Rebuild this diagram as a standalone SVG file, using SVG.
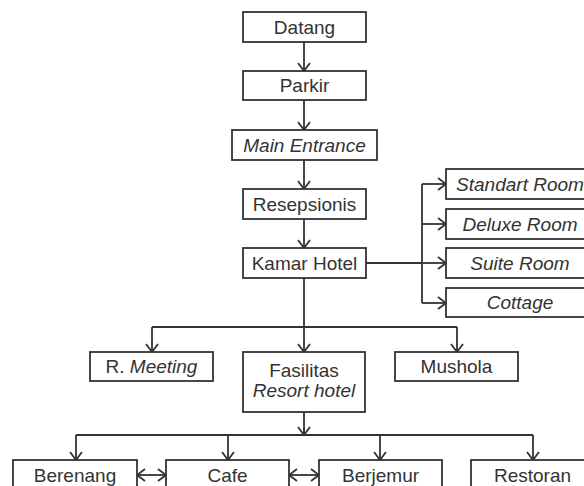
<svg xmlns="http://www.w3.org/2000/svg" width="584" height="486" viewBox="0 0 584 486">
  <style>
    .box { fill: #ffffff; stroke: #333333; stroke-width: 1.8; }
    .lbl { font-family: "Liberation Sans", Arial, sans-serif; font-size: 19px; fill: #333333; text-anchor: middle; }
    .it { font-style: italic; }
    .wire { fill: none; stroke: #333333; stroke-width: 1.8; }
    .arr { marker-end: url(#ah); }
    .both { marker-start: url(#ah); marker-end: url(#ah); }
  </style>
  <defs>
    <marker id="ah" viewBox="0 0 10 14" refX="9" refY="7" markerWidth="10" markerHeight="14" markerUnits="userSpaceOnUse" orient="auto-start-reverse">
      <path d="M1,1 L9,7 L1,13" fill="none" stroke="#333333" stroke-width="1.8"/>
    </marker>
  </defs>
  <rect width="584" height="486" fill="#ffffff"/>

  <g id="connectors">
    <line class="wire arr" x1="304" y1="42" x2="304" y2="71"/>
    <line class="wire arr" x1="304" y1="100" x2="304" y2="130"/>
    <line class="wire arr" x1="304" y1="160" x2="304" y2="189"/>
    <line class="wire arr" x1="304" y1="219" x2="304" y2="248"/>
    <!-- room types -->
    <polyline class="wire" points="366,263 422,263"/>
    <line class="wire" x1="422" y1="184" x2="422" y2="303"/>
    <line class="wire arr" x1="422" y1="184" x2="446" y2="184"/>
    <line class="wire arr" x1="422" y1="224" x2="446" y2="224"/>
    <line class="wire arr" x1="422" y1="263" x2="446" y2="263"/>
    <line class="wire arr" x1="422" y1="303" x2="446" y2="303"/>
    <!-- facilities -->
    <line class="wire arr" x1="304" y1="278" x2="304" y2="352"/>
    <line class="wire" x1="152" y1="327" x2="457" y2="327"/>
    <line class="wire arr" x1="152" y1="327" x2="152" y2="352"/>
    <line class="wire arr" x1="457" y1="327" x2="457" y2="352"/>
    <!-- resort activities -->
    <line class="wire" x1="304" y1="412" x2="304" y2="435"/>
    <line class="wire" x1="76" y1="435" x2="533" y2="435"/>
    <line class="wire arr" x1="76" y1="435" x2="76" y2="460"/>
    <line class="wire arr" x1="228" y1="435" x2="228" y2="460"/>
    <line class="wire arr" x1="380" y1="435" x2="380" y2="460"/>
    <line class="wire arr" x1="533" y1="435" x2="533" y2="460"/>
    <line class="wire arr" x1="304" y1="428" x2="304" y2="435"/>
    <line class="wire both" x1="137" y1="475" x2="166" y2="475"/>
    <line class="wire both" x1="289" y1="475" x2="319" y2="475"/>
  </g>

  <g id="datang"><rect class="box" x="243" y="12" width="123" height="30"/><text class="lbl" x="304.5" y="33.5">Datang</text></g>
  <g id="parkir"><rect class="box" x="243" y="71" width="123" height="29"/><text class="lbl" x="304.5" y="92">Parkir</text></g>
  <g id="main-entrance"><rect class="box" x="232" y="130" width="145" height="30"/><text class="lbl it" x="304.5" y="151.5">Main Entrance</text></g>
  <g id="resepsionis"><rect class="box" x="243" y="189" width="123" height="30"/><text class="lbl" x="304.5" y="210.5">Resepsionis</text></g>
  <g id="kamar-hotel"><rect class="box" x="243" y="248" width="123" height="30"/><text class="lbl" x="304.5" y="269.5">Kamar Hotel</text></g>

  <g id="standart-room"><rect class="box" x="446" y="169" width="150" height="30"/><text class="lbl it" x="520" y="190.5">Standart Room</text></g>
  <g id="deluxe-room"><rect class="box" x="446" y="209" width="150" height="30"/><text class="lbl it" x="520" y="230.5">Deluxe Room</text></g>
  <g id="suite-room"><rect class="box" x="446" y="248" width="150" height="30"/><text class="lbl it" x="520" y="269.5">Suite Room</text></g>
  <g id="cottage"><rect class="box" x="446" y="288" width="150" height="29"/><text class="lbl it" x="520" y="309">Cottage</text></g>

  <g id="r-meeting"><rect class="box" x="90" y="352" width="123" height="29"/><text class="lbl" x="151.5" y="373">R. <tspan class="it">Meeting</tspan></text></g>
  <g id="fasilitas"><rect class="box" x="243" y="352" width="122" height="60"/><text class="lbl" x="304" y="377">Fasilitas</text><text class="lbl it" x="304" y="397">Resort hotel</text></g>
  <g id="mushola"><rect class="box" x="395" y="352" width="123" height="29"/><text class="lbl" x="456.5" y="373">Mushola</text></g>

  <g id="berenang"><rect class="box" x="13" y="460" width="124" height="32"/><text class="lbl" x="75" y="481.5">Berenang</text></g>
  <g id="cafe"><rect class="box" x="166" y="460" width="123" height="32"/><text class="lbl" x="227.5" y="481.5">Cafe</text></g>
  <g id="berjemur"><rect class="box" x="319" y="460" width="123" height="32"/><text class="lbl" x="380.5" y="481.5">Berjemur</text></g>
  <g id="restoran"><rect class="box" x="471" y="460" width="123" height="32"/><text class="lbl" x="532.5" y="481.5">Restoran</text></g>
</svg>
